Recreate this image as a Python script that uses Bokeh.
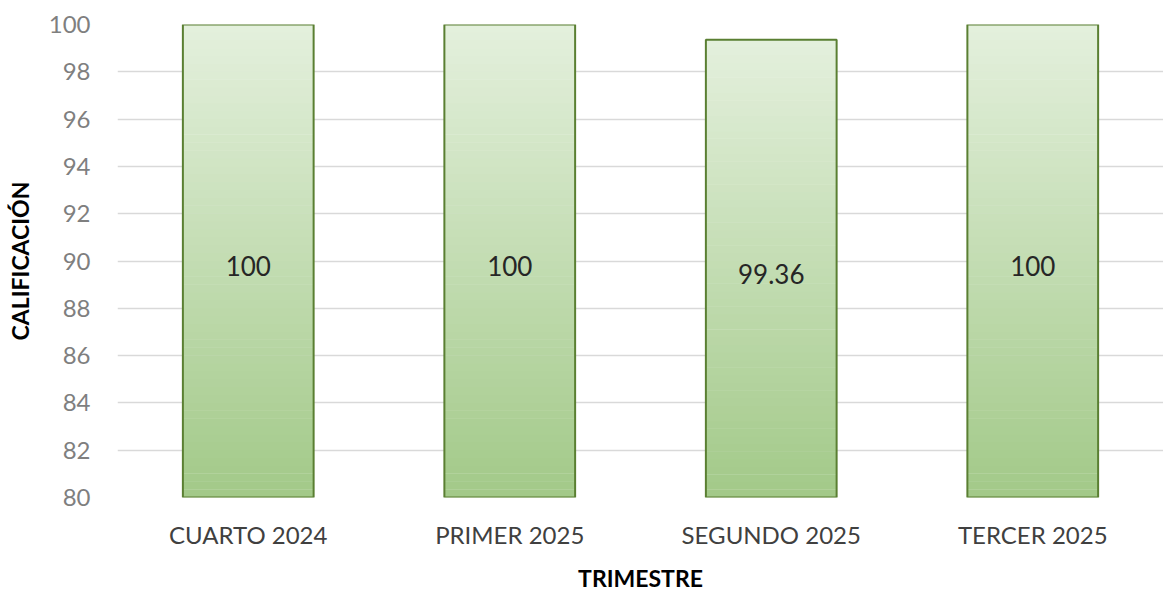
from bokeh.plotting import figure
from bokeh.models import ColumnDataSource, FixedTicker, Range1d
from bokeh.embed import file_html
from bokeh.resources import INLINE
from bokeh.core.properties import value

categories = ["CUARTO 2024", "PRIMER 2025", "SEGUNDO 2025", "TERCER 2025"]
scores = [100, 100, 99.36, 100]
labels = ["100", "100", "99.36", "100"]
y_ticks = [80, 82, 84, 86, 88, 90, 92, 94, 96, 98, 100]

BASE = 80
FONT = "Lato"

p = figure(x_range=categories, y_range=Range1d(80, 100),
           frame_width=1046, frame_height=473, output_backend="svg",
           toolbar_location=None, min_border_left=117, min_border_right=0,
           min_border_top=24, min_border_bottom=0)
p.outline_line_color = None

# gradient-filled bars built from slices
N = 60
top_rgb = (0xE4, 0xF0, 0xDD)
bot_rgb = (0xA2, 0xC9, 0x88)
xs, bottoms, tops, colors = [], [], [], []
for c, v in zip(categories, scores):
    h = (v - BASE) / N
    for i in range(N):
        t = (i + 0.5) / N  # 0 bottom, 1 top
        rgb = tuple(int(round(b + (tt - b) * t)) for b, tt in zip(bot_rgb, top_rgb))
        xs.append(c)
        bottoms.append(BASE + i * h)
        tops.append(BASE + (i + 1) * h + (0.02 if i < N - 1 else 0))
        colors.append("#%02x%02x%02x" % rgb)
p.vbar(x=xs, bottom=bottoms, top=tops, width=0.5, fill_color=colors, line_color=None)

src = ColumnDataSource(dict(x=categories, top=scores, mid=[(BASE + v) / 2 for v in scores], lab=labels))
p.vbar(x="x", top="top", bottom=BASE, width=0.5, source=src, fill_color=None,
       line_color="#5a7f32", line_width=2)
p.text(x="x", y="mid", text="lab", source=src, text_align="center", text_baseline="middle",
       y_offset=5, text_font=value(FONT), text_font_size="26px", text_color="#262626")

p.xgrid.grid_line_color = None
p.ygrid.grid_line_color = "#d9d9d9"
p.ygrid.grid_line_width = 1.5
p.yaxis.ticker = FixedTicker(ticks=y_ticks)

for ax in (p.xaxis[0], p.yaxis[0]):
    ax.axis_line_color = None
    ax.major_tick_line_color = None
    ax.minor_tick_line_color = None
    ax.major_tick_out = 0
    ax.major_tick_in = 0
    ax.minor_tick_out = 0
    ax.major_label_text_font = FONT
    ax.major_label_text_font_size = "24px"
    ax.axis_label_text_font = FONT
    ax.axis_label_text_font_size = "23px"
    ax.axis_label_text_font_style = "bold"
    ax.axis_label_text_color = "#000000"

p.yaxis.major_label_text_color = "#7f7f7f"
p.yaxis.major_label_standoff = 27
p.yaxis.axis_label = "CALIFICACIÓN"
p.yaxis.axis_label_standoff = 12

p.xaxis.major_label_text_color = "#404040"
p.xaxis.major_label_standoff = 22
p.xaxis.axis_label = "TRIMESTRE"
p.xaxis.axis_label_standoff = 12

open("out.html", "w").write(file_html(p, INLINE))
